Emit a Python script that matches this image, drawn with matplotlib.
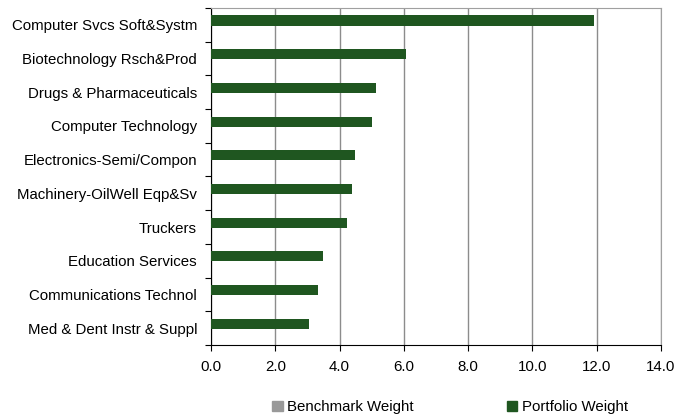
import numpy as np
import matplotlib.pyplot as plt
from matplotlib.patches import Patch

plt.rcParams['font.family'] = ['Liberation Sans', 'DejaVu Sans']

# Sector weights (%)
sectors = ['Computer Svcs Soft&Systm', 'Biotechnology Rsch&Prod', 'Drugs & Pharmaceuticals',
           'Computer Technology', 'Electronics-Semi/Compon', 'Machinery-OilWell Eqp&Sv',
           'Truckers', 'Education Services', 'Communications Technol', 'Med & Dent Instr & Suppl']
portfolio_weight = [11.92, 6.07, 5.13, 5.0, 4.48, 4.39, 4.23, 3.48, 3.33, 3.05]
benchmark_weight = [0, 0, 0, 0, 0, 0, 0, 0, 0, 0]

green = '#1f5620'
grey = '#999999'

fig = plt.figure(figsize=(6.87, 4.15), dpi=100)
ax = fig.add_axes([211 / 687, 1 - 345 / 415, 450 / 687, 337 / 415])

y = np.arange(len(sectors))
h = 0.3
ax.barh(y - 0.13, portfolio_weight, height=h, color=green, zorder=3)
ax.barh(y + 0.17, benchmark_weight, height=h, color=grey, zorder=3)

ax.set_xlim(0, 14)
ax.set_ylim(len(sectors) - 0.5, -0.5)
ax.set_xticks(np.arange(0, 14.1, 2))
ax.set_xticklabels([f'{v:.1f}' for v in np.arange(0, 14.1, 2)])
ax.xaxis.grid(True, color='#8c8c8c', linewidth=1, zorder=0)

ax.set_yticks(np.arange(-0.5, len(sectors), 1))
ax.set_yticklabels([])
ax.set_yticks(y, minor=True)
ax.set_yticklabels(sectors, minor=True)
ax.tick_params(axis='y', which='minor', length=0, pad=10, labelsize=10.8)
ax.tick_params(axis='y', which='major', length=4, direction='out')
ax.tick_params(axis='x', length=4, direction='out', pad=7, labelsize=10.8)

for side in ['top', 'right']:
    ax.spines[side].set_color('#a0a0a0')
for side in ['left', 'bottom']:
    ax.spines[side].set_color('black')

handles = [Patch(color=grey, label='Benchmark Weight'),
           Patch(color=green, label='Portfolio Weight')]
fig.legend(handles=handles, loc='center', bbox_to_anchor=(450 / 687, 1 - 407 / 415),
           ncol=2, frameon=False, fontsize=10.8, handlelength=0.7, handleheight=0.7,
           handletextpad=0.3, columnspacing=6.2)

fig.savefig('out.png', dpi=100)
